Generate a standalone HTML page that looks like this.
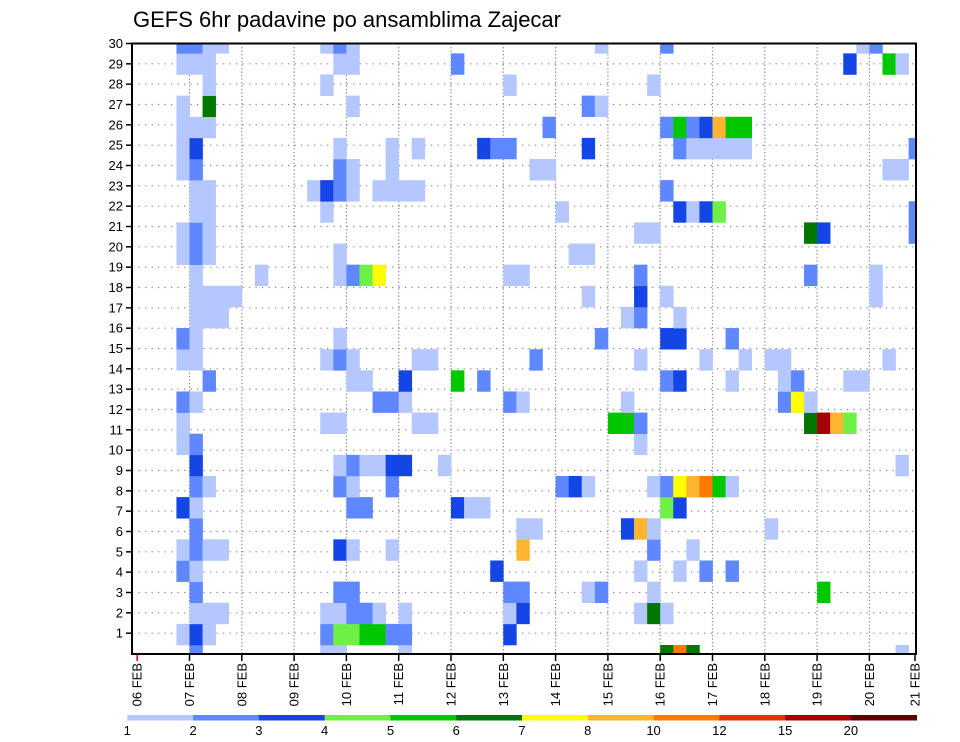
<!DOCTYPE html>
<html><head><meta charset="utf-8"><style>
html,body{margin:0;padding:0;background:#fff;}
svg{display:block;font-family:"Liberation Sans",sans-serif;}
</style></head><body>
<svg id="chart" width="960" height="742" viewBox="0 0 960 742">
<text x="133" y="27" font-size="22" fill="#000">GEFS 6hr padavine po ansamblima Zajecar</text>
<defs><clipPath id="pc"><rect x="132" y="43.5" width="784" height="610.5"/></clipPath></defs>
<g id="grid"></g>
<g id="cells" clip-path="url(#pc)"></g>
<rect x="132" y="43.5" width="784" height="610.5" fill="none" stroke="#000" stroke-width="2"/>
<g id="yaxis"></g>
<g id="xaxis"></g>
<g id="legend"></g>
</svg>
<script>
// Data: 6-hour step index (from 06 FEB 00z), ensemble member index, precip value (mm)
const dayLabels = ["06 FEB","07 FEB","08 FEB","09 FEB","10 FEB","11 FEB","12 FEB","13 FEB","14 FEB","15 FEB","16 FEB","17 FEB","18 FEB","19 FEB","20 FEB","21 FEB"];
const memberLabels = [1,2,3,4,5,6,7,8,9,10,11,12,13,14,15,16,17,18,19,20,21,22,23,24,25,26,27,28,29,30];
const levelThresholds = [1,2,3,4,5,6,7,8,10,12,15,20];
const levelColors = ["#b4c8ff","#5f87ff","#1446e6","#6ef046","#00c800","#007800","#ffff00","#ffb432","#ff7800","#e63200","#a50000","#640000"];
// per-member rows: "step:value"
const memberRows = [
 /*0*/ "4:2.5 14:1.5 15:1.5 20:1.5 40:6.5 41:11 42:6.5 58:1.5",
 /*1*/ "3:1.5 4:3.5 5:1.5 14:2.5 15:4.5 16:4.5 17:5.5 18:5.5 19:2.5 20:2.5 28:3.5",
 /*2*/ "4:1.5 5:1.5 6:1.5 14:1.5 15:1.5 16:2.5 17:2.5 18:1.5 20:1.5 28:1.5 29:3.5 38:1.5 39:6.5 40:1.5",
 /*3*/ "4:2.5 15:2.5 16:2.5 28:2.5 29:2.5 34:1.5 35:2.5 39:1.5 52:5.5",
 /*4*/ "3:2.5 4:1.5 27:3.5 38:1.5 41:1.5 43:2.5 45:2.5",
 /*5*/ "3:1.5 4:2.5 5:1.5 6:1.5 15:3.5 16:1.5 19:1.5 29:9 39:2.5 42:1.5",
 /*6*/ "4:2.5 29:1.5 30:1.5 37:3.5 38:9 39:1.5 48:1.5",
 /*7*/ "3:3.5 4:1.5 16:2.5 17:2.5 24:3.5 25:1.5 26:1.5 40:4.5 41:3.5",
 /*8*/ "4:2.5 5:1.5 15:2.5 16:1.5 19:2.5 32:2.5 33:3.5 34:1.5 39:1.5 40:2.5 41:7.5 42:9 43:11 44:5.5 45:1.5",
 /*9*/ "4:3.5 15:1.5 16:2.5 17:1.5 18:1.5 19:3.5 20:3.5 23:1.5 58:1.5",
 /*10*/ "3:1.5 4:2.5 38:1.5",
 /*11*/ "3:1.5 14:1.5 15:1.5 21:1.5 22:1.5 36:5.5 37:5.5 38:2.5 51:6.5 52:17 53:9 54:4.5",
 /*12*/ "3:2.5 4:1.5 18:2.5 19:2.5 20:1.5 28:2.5 29:1.5 37:1.5 49:2.5 50:7.5 51:1.5",
 /*13*/ "5:2.5 16:1.5 17:1.5 20:3.5 24:5.5 26:2.5 40:2.5 41:3.5 45:1.5 49:1.5 50:2.5 54:1.5 55:1.5",
 /*14*/ "3:1.5 4:1.5 14:1.5 15:2.5 16:1.5 21:1.5 22:1.5 30:2.5 38:1.5 43:1.5 46:1.5 48:1.5 49:1.5 57:1.5",
 /*15*/ "3:2.5 4:1.5 15:1.5 35:2.5 40:3.5 41:3.5 45:2.5",
 /*16*/ "4:1.5 5:1.5 6:1.5 37:1.5 38:2.5 41:1.5",
 /*17*/ "4:1.5 5:1.5 6:1.5 7:1.5 34:1.5 38:3.5 40:1.5 56:1.5",
 /*18*/ "4:1.5 9:1.5 15:1.5 16:2.5 17:4.5 18:7.5 28:1.5 29:1.5 38:2.5 51:2.5 56:1.5",
 /*19*/ "3:1.5 4:2.5 5:1.5 15:1.5 33:1.5 34:1.5",
 /*20*/ "3:1.5 4:2.5 5:1.5 38:1.5 39:1.5 51:6.5 52:3.5 59:2.5",
 /*21*/ "4:1.5 5:1.5 14:1.5 32:1.5 41:3.5 42:1.5 43:3.5 44:4.5 59:2.5",
 /*22*/ "4:1.5 5:1.5 13:1.5 14:3.5 15:2.5 16:1.5 18:1.5 19:1.5 20:1.5 21:1.5 40:2.5",
 /*23*/ "3:1.5 4:2.5 15:2.5 16:1.5 19:1.5 30:1.5 31:1.5 57:1.5 58:1.5",
 /*24*/ "3:1.5 4:3.5 15:1.5 19:1.5 21:1.5 26:3.5 27:2.5 28:2.5 34:3.5 41:2.5 42:1.5 43:1.5 44:1.5 45:1.5 46:1.5 59:2.5",
 /*25*/ "3:1.5 4:1.5 5:1.5 31:2.5 40:2.5 41:5.5 42:2.5 43:3.5 44:9 45:5.5 46:5.5",
 /*26*/ "3:1.5 5:6.5 16:1.5 34:2.5 35:1.5",
 /*27*/ "5:1.5 14:1.5 28:1.5 39:1.5",
 /*28*/ "3:1.5 4:1.5 5:1.5 15:1.5 16:1.5 24:2.5 54:3.5 57:5.5 58:1.5",
 /*29*/ "3:2.5 4:2.5 5:1.5 6:1.5 14:1.5 15:2.5 16:1.5 35:1.5 40:2.5 55:1.5 56:2.5"
];

const NS="http://www.w3.org/2000/svg";
const X0=137.2, DAY=52.3, STEP=DAY/4;
const YB=645, MH=21.13;
const xStep = k => X0 + STEP*k;
const xDay = d => X0 + DAY*d;
const yMember = m => YB - MH*m;
const yLabel = r => 43.5 + (30-r)*(610/30);
function colorFor(v){let i=-1;for(let j=0;j<levelThresholds.length;j++) if(v>=levelThresholds[j]) i=j;return i<0?null:levelColors[i];}
function mk(tag,attrs,parent){const e=document.createElementNS(NS,tag);for(const a in attrs)e.setAttribute(a,attrs[a]);parent.appendChild(e);return e;}

const grid=document.getElementById('grid');
for(let r=1;r<30;r++){
  const l=mk('line',{x1:132,x2:916,y1:yLabel(r),y2:yLabel(r),stroke:'#888','stroke-width':1.2,'stroke-dasharray':'1.3 5.2'},grid);
  
  
}
for(let d=1;d<15;d++){
  const l=mk('line',{x1:xDay(d),x2:xDay(d),y1:43.5,y2:654,stroke:'#888','stroke-width':1.2,'stroke-dasharray':'1.3 2.2'},grid);
  
  
}

const cells=document.getElementById('cells');
memberRows.forEach((row,m)=>{
  row.split(' ').forEach(tok=>{
    const [k,v]=tok.split(':').map(Number);
    const c=colorFor(v); if(!c) return;
    const r=mk('rect',{x:xStep(k),y:yMember(m),width:STEP+0.3,height:MH+0.3,fill:c},cells);
    
    
  });
});

const ya=document.getElementById('yaxis');
memberLabels.forEach(r=>{
  const y=yLabel(r);
  const t=mk('line',{x1:126,x2:132,y1:y,y2:y,stroke:'#000','stroke-width':1.5},ya);
  
  
  const tx=mk('text',{x:123,y:y+4.5,'font-size':13,'text-anchor':'end',fill:'#000'},ya);
  tx.textContent=r;
  
  
});

const xa=document.getElementById('xaxis');
dayLabels.forEach((lab,d)=>{
  let x=xDay(d); if(d===15) x=915;
  const t=mk('line',{x1:x,x2:x,y1:654,y2:661,stroke:d===0?'#d00':'#000','stroke-width':1.5},xa);
  
  
  const tx=mk('text',{x:0,y:0,'font-size':13,'text-anchor':'end',fill:'#000',transform:`translate(${x+4.5},663) rotate(-90)`},xa);
  tx.textContent=lab;
  
  
});

const lg=document.getElementById('legend');
const LX0=127.3, LW=(916.7-127.3)/12;
levelColors.forEach((c,i)=>{
  const r=mk('rect',{x:LX0+LW*i,y:715,width:LW+0.3,height:5.5,fill:c},lg);
  
  
});
levelThresholds.forEach((v,i)=>{
  const t=mk('text',{x:LX0+LW*i,y:735,'font-size':13,'text-anchor':'middle',fill:'#000'},lg);
  t.textContent=v;
  
  
});
</script>
</body></html>
